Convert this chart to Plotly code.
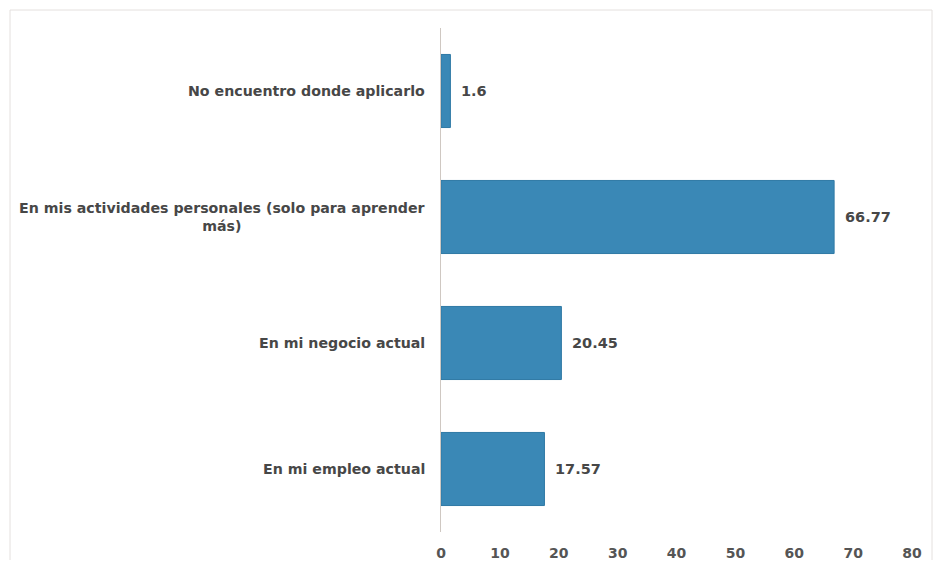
import plotly.graph_objects as go

categories = ["En mi empleo actual", "En mi negocio actual",
              "En mis actividades personales (solo para aprender<br>más)",
              "No encuentro donde aplicarlo"]
values = [17.57, 20.45, 66.77, 1.6]
value_labels = ["17.57", "20.45", "66.77", "1.6"]
x_ticks = [0, 10, 20, 30, 40, 50, 60, 70, 80]

FONT = "DejaVu Sans"
TXT = "#474747"

W, H = 925, 552
L, R, T, B = 433, 21, 20, 28
PW = W - L - R
PH = H - T - B

fig = go.Figure()
fig.add_trace(go.Bar(
    y=categories, x=values, orientation="h",
    marker=dict(color="#3a88b6", line=dict(color="#2f79a5", width=1)),
    width=0.58, hoverinfo="skip",
))

annotations = []
for c, v, t in zip(categories, values, value_labels):
    annotations.append(dict(x=v, y=c, xref="x", yref="y", text=t, showarrow=False,
                            xanchor="left", xshift=9,
                            font=dict(family=FONT, size=14.5, color=TXT, weight="bold")))
    annotations.append(dict(x=0, y=c, xref="paper", yref="y", text=c, showarrow=False,
                            xanchor="right", align="center", xshift=-14,
                            font=dict(family=FONT, size=14.2, color=TXT, weight="bold")))

fig.update_layout(
    width=W, height=H,
    margin=dict(l=L, r=R, t=T, b=B, autoexpand=False),
    paper_bgcolor="white", plot_bgcolor="white",
    showlegend=False,
    annotations=annotations,
    xaxis=dict(range=[0, 80], tickvals=x_ticks, showgrid=False, zeroline=False,
               showline=False, ticks="outside", ticklen=8, tickcolor="rgba(0,0,0,0)",
               tickfont=dict(family=FONT, size=14, color="#555555", weight="bold"),
               automargin=False, fixedrange=True),
    yaxis=dict(showticklabels=False, showgrid=False, zeroline=False,
               showline=True, linecolor="#cfc8c2", linewidth=1,
               range=[-0.5, 3.5], automargin=False, fixedrange=True),
    shapes=[dict(type="rect", xref="paper", yref="paper",
                 x0=(2 - L) / PW, x1=(W - 1 - L) / PW, y0=-0.2, y1=1 + (T - 2) / PH,
                 line=dict(color="#e4e0de", width=1), fillcolor="rgba(0,0,0,0)",
                 layer="below")],
)

fig.write_html("out.html")
